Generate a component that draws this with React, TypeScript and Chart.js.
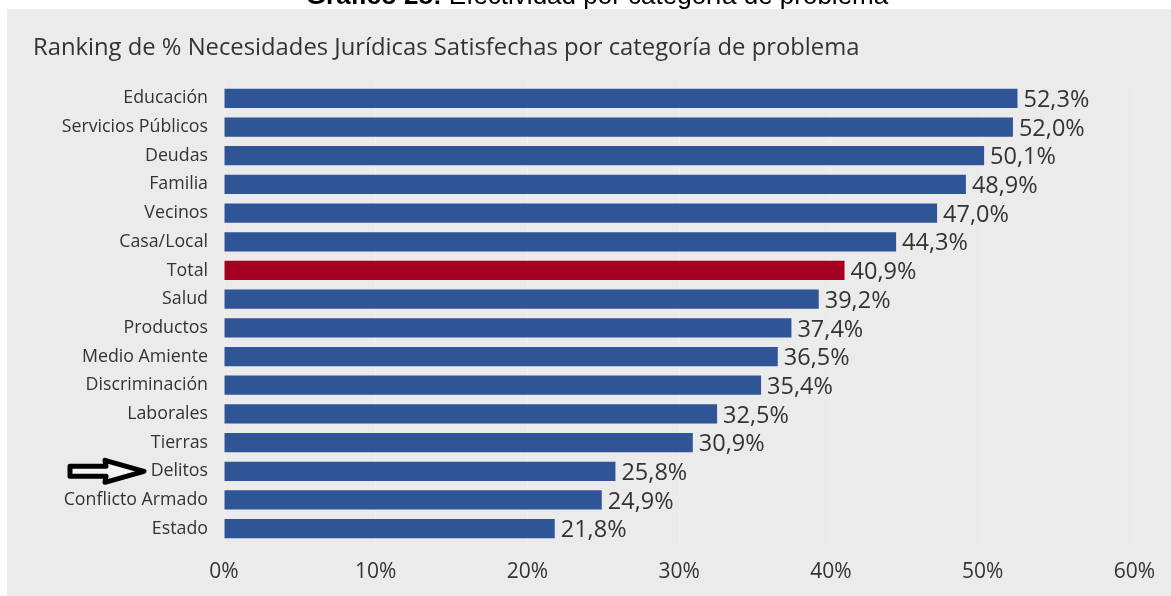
import React, { useEffect, useRef } from "react";
import { Chart, registerables } from "chart.js";

Chart.register(...registerables);

const categories = [
  "Educación",
  "Servicios Públicos",
  "Deudas",
  "Familia",
  "Vecinos",
  "Casa/Local",
  "Total",
  "Salud",
  "Productos",
  "Medio Amiente",
  "Discriminación",
  "Laborales",
  "Tierras",
  "Delitos",
  "Conflicto Armado",
  "Estado",
];
const values = [52.3, 52.0, 50.1, 48.9, 47.0, 44.3, 40.9, 39.2, 37.4, 36.5, 35.4, 32.5, 30.9, 25.8, 24.9, 21.8];
const xTicks = [0, 10, 20, 30, 40, 50, 60];
const headerBold = "Gráfico 28:";
const headerRest = " Efectividad por categoría de problema";
const chartTitle = "Ranking de % Necesidades Jurídicas Satisfechas por categoría de problema";
const markedCategory = "Delitos";

const BLUE = "#2f5597";
const RED = "#a50021";
const TEXT = "#333333";
const FONT = "'Open Sans', 'Noto Sans', sans-serif";

const fmt = (v: number) => v.toFixed(1).replace(".", ",") + "%";

export default function App() {
  const ref = useRef<HTMLCanvasElement | null>(null);

  useEffect(() => {
    if (!ref.current) return;

    const decor = {
      id: "decor",
      beforeDraw(chart: any) {
        const ctx = chart.ctx;
        ctx.save();
        ctx.fillStyle = "#ffffff";
        ctx.fillRect(0, 0, chart.width, chart.height);
        ctx.fillStyle = "#ebebeb";
        ctx.fillRect(7, 9, chart.width - 7, chart.height - 9);
        // chart title
        ctx.fillStyle = TEXT;
        ctx.font = `23.8px ${FONT}`;
        ctx.textAlign = "left";
        ctx.textBaseline = "middle";
        ctx.fillText(chartTitle, 33, 48);
        ctx.restore();
      },
      afterDraw(chart: any) {
        const ctx = chart.ctx;
        ctx.save();
        // header (cut off at top)
        ctx.textBaseline = "alphabetic";
        ctx.fillStyle = "#000000";
        const hf = "26px 'Liberation Sans', Arial, sans-serif";
        ctx.font = "bold " + hf;
        const wb = ctx.measureText(headerBold).width;
        ctx.font = hf;
        const wr = ctx.measureText(headerRest).width;
        const x0 = 597 - (wb + wr) / 2;
        ctx.font = "bold " + hf;
        ctx.fillText(headerBold, x0, 4);
        ctx.font = hf;
        ctx.fillText(headerRest, x0 + wb, 4);

        // data labels
        const meta = chart.getDatasetMeta(0);
        ctx.fillStyle = TEXT;
        ctx.font = `23.5px ${FONT}`;
        ctx.textAlign = "left";
        ctx.textBaseline = "middle";
        meta.data.forEach((el: any, i: number) => {
          ctx.fillText(fmt(values[i]), el.x + 6, el.y + 2);
        });

        // arrow pointing at marked category
        const yS = chart.scales.y;
        const idx = categories.indexOf(markedCategory);
        const cy = yS.getPixelForValue(idx);
        ctx.beginPath();
        ctx.moveTo(70, cy - 5);
        ctx.lineTo(106, cy - 5);
        ctx.lineTo(105, cy - 11);
        ctx.lineTo(144, cy);
        ctx.lineTo(105, cy + 11);
        ctx.lineTo(106, cy + 5);
        ctx.lineTo(70, cy + 5);
        ctx.closePath();
        ctx.fillStyle = "#f4f4f4";
        ctx.fill();
        ctx.lineWidth = 5;
        ctx.lineJoin = "round";
        ctx.strokeStyle = "#000000";
        ctx.stroke();
        ctx.restore();
      },
    };

    const chart = new Chart(ref.current, {
      type: "bar",
      data: {
        labels: categories,
        datasets: [
          {
            data: values,
            backgroundColor: categories.map((c) => (c === "Total" ? RED : BLUE)),
            borderWidth: 0,
            barPercentage: 0.67,
            categoryPercentage: 1,
          },
        ],
      },
      options: {
        indexAxis: "y",
        responsive: false,
        animation: false,
        layout: { padding: { top: 84, right: 35, left: 0, bottom: 0 } },
        plugins: {
          legend: { display: false },
          tooltip: { enabled: false },
          title: { display: false },
        },
        scales: {
          x: {
            min: 0,
            max: 60,
            afterFit: (s: any) => {
              s.height = 53;
            },
            afterBuildTicks: (s: any) => {
              s.ticks = xTicks.map((v) => ({ value: v }));
            },
            ticks: {
              callback: (v: any) => v + "%",
              color: TEXT,
              font: { family: FONT, size: 21 },
              padding: 16,
              maxRotation: 0,
            },
            grid: { color: "rgba(255,255,255,0.25)", drawTicks: false },
            border: { display: false },
          },
          y: {
            afterFit: (s: any) => {
              s.width = 224;
            },
            ticks: {
              color: TEXT,
              font: { family: FONT, size: 17.8 },
              padding: 16,
              autoSkip: false,
            },
            grid: { display: false, drawTicks: false },
            border: { display: false },
          },
        },
      },
      plugins: [decor],
    });

    return () => chart.destroy();
  }, []);

  return (
    <div style={{ position: "fixed", left: 0, top: 0, width: 1171, height: 596 }}>
      <canvas ref={ref} width={1171} height={596} />
    </div>
  );
}
